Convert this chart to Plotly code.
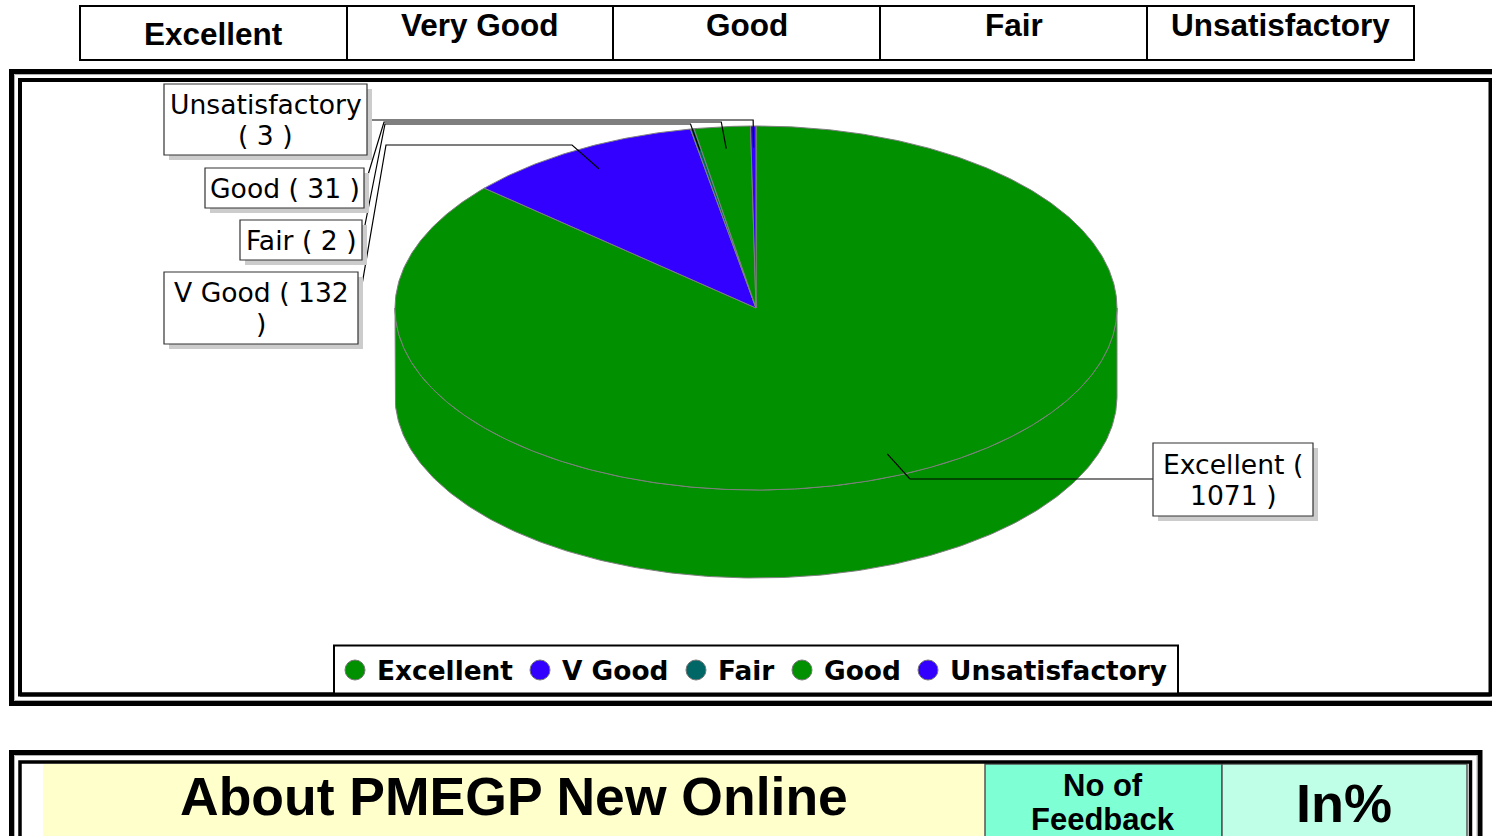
import numpy as np
import plotly.graph_objects as go

# ---------------- data ----------------
categories = ["Excellent", "V Good", "Fair", "Good", "Unsatisfactory"]
values = [1071, 132, 2, 31, 3]
slice_colors = ["#009000", "#3300FF", "#006666", "#009000", "#3300FF"]
header_labels = ["Excellent", "Very Good", "Good", "Fair", "Unsatisfactory"]
footer_title = "About PMEGP New Online"
footer_col2 = ["No of", "Feedback"]
footer_col3 = "In%"

# ---------------- geometry (pixel space) ----------------
W, H = 1492, 836
CX, CY, RX, RY, DEPTH = 756, 308, 361, 182, 88
EDGE = "#808080"


def pt(theta_deg, k=1.0, dy=0.0):
    t = np.radians(theta_deg)
    return CX + RX * k * np.sin(t), CY - RY * k * np.cos(t) + dy


fig = go.Figure()

# side wall of the 3D pie (front half)
th = np.linspace(90, 270, 240)
tx, ty = pt(th)
bx, by = pt(th[::-1], dy=DEPTH)
fig.add_trace(go.Scatter(x=np.concatenate([tx, bx, tx[:1]]), y=np.concatenate([ty, by, ty[:1]]),
                         mode="lines", fill="toself", fillcolor=slice_colors[0],
                         line=dict(color=EDGE, width=1), hoverinfo="skip", showlegend=False))

# top slices, clockwise from 12 o'clock
total = float(sum(values))
start = 0.0
mids = []
for cat, v, c in zip(categories, values, slice_colors):
    span = 360.0 * v / total
    a = np.linspace(start, start + span, max(3, int(span * 2)))
    ax, ay = pt(a)
    xs = np.concatenate([[CX], ax, [CX]])
    ys = np.concatenate([[CY], ay, [CY]])
    fig.add_trace(go.Scatter(x=xs, y=ys, mode="lines", fill="toself", fillcolor=c,
                             line=dict(color=EDGE, width=1), name=cat,
                             hoverinfo="text", text=f"{cat} ( {v} )", showlegend=False))
    mids.append(start + span / 2)
    start += span

shapes = []
annotations = []

# ---------------- header table ----------------
hx = [80, 347, 613, 880, 1147, 1414]
shapes.append(dict(type="rect", xref="x", yref="y", x0=hx[0], x1=hx[-1], y0=6, y1=60,
                   line=dict(color="black", width=2)))
for xv in hx[1:-1]:
    shapes.append(dict(type="line", xref="x", yref="y", x0=xv, x1=xv, y0=6, y1=60,
                       line=dict(color="black", width=2)))
for i, lab in enumerate(header_labels):
    annotations.append(dict(x=(hx[i] + hx[i + 1]) / 2, y=34 if i == 0 else 25, xref="x", yref="y",
                            text=f"<b>{lab}</b>", showarrow=False,
                            font=dict(family="Liberation Sans, Arial", size=31.5, color="black")))

# ---------------- chart frame (double border) ----------------
shapes.append(dict(type="rect", xref="x", yref="y", x0=11.5, x1=1500, y0=71.5, y1=703.5,
                   line=dict(color="black", width=5), layer="above"))
shapes.append(dict(type="rect", xref="x", yref="y", x0=14.5, x1=1500, y0=74.5, y1=700.5,
                   line=dict(color="#b0b0b0", width=1), layer="above"))
shapes.append(dict(type="rect", xref="x", yref="y", x0=20, x1=1490.5, y0=80, y1=694.5,
                   line=dict(color="black", width=4), layer="above"))

# ---------------- data labels with leader lines ----------------
box_specs = {
    "Unsatisfactory": dict(x0=164, x1=367, y0=84, y1=155, lines=["Unsatisfactory", "( 3 )"],
                           elbow_y=120, side="left", bend=None),
    "Good": dict(x0=205, x1=364, y0=168, y1=208, lines=["Good ( 31 )"],
                 elbow_y=122, side="left", bend=384),
    "Fair": dict(x0=240, x1=362, y0=220, y1=260, lines=["Fair ( 2 )"],
                 elbow_y=124, side="left", bend=385),
    "V Good": dict(x0=164, x1=358, y0=272, y1=344, lines=["V Good ( 132", ")"],
                   elbow_y=145, side="left", bend=386),
    "Excellent": dict(x0=1153, x1=1313, y0=443, y1=516, lines=["Excellent (", "1071 )"],
                      elbow_y=479, side="right", bend=None),
}
for cat, v, m in zip(categories, values, mids):
    b = box_specs[cat]
    axp, ayp = pt(m, k=0.88)
    ey = b["elbow_y"]
    dxr, dyr = axp - CX, ayp - CY
    ex = axp + dxr * (ey - ayp) / dyr if abs(dyr) > 1e-6 else axp
    bmid = (b["y0"] + b["y1"]) / 2
    if b["side"] == "left":
        if b["bend"] is None:
            path = f"M{axp},{ayp} L{ex},{ey} L{b['x1']},{ey}"
        else:
            path = f"M{axp},{ayp} L{ex},{ey} L{b['bend']},{ey} L{b['x1']},{bmid}"
    else:
        path = f"M{axp},{ayp} L{ex},{ey} L{b['x0']},{ey}"
    shapes.append(dict(type="path", xref="x", yref="y", path=path,
                       line=dict(color="black", width=1.2), layer="above"))
    shapes.append(dict(type="rect", xref="x", yref="y", x0=b["x0"] + 5, x1=b["x1"] + 5,
                       y0=b["y0"] + 5, y1=b["y1"] + 5, fillcolor="#cccccc",
                       line=dict(width=0), layer="above"))
    shapes.append(dict(type="rect", xref="x", yref="y", x0=b["x0"], x1=b["x1"],
                       y0=b["y0"], y1=b["y1"], fillcolor="white",
                       line=dict(color="#333333", width=1.2), layer="above"))
    n = len(b["lines"])
    for j, line_txt in enumerate(b["lines"]):
        yy = bmid + (j - (n - 1) / 2) * 31
        annotations.append(dict(x=(b["x0"] + b["x1"]) / 2, y=yy, xref="x", yref="y",
                                text=line_txt, showarrow=False,
                                font=dict(family="DejaVu Sans", size=26.6, color="black")))

# ---------------- legend ----------------
shapes.append(dict(type="rect", xref="x", yref="y", x0=334, x1=1178, y0=645.5, y1=694,
                   fillcolor="white", line=dict(color="black", width=2), layer="above"))
legend_marker_x = [355, 540, 696, 802, 928]
for cat, c, lx in zip(categories, slice_colors, legend_marker_x):
    shapes.append(dict(type="circle", xref="x", yref="y", x0=lx - 10, x1=lx + 10,
                       y0=660, y1=680, fillcolor=c, line=dict(color="#777777", width=1),
                       layer="above"))
    annotations.append(dict(x=lx + 20, y=670, xref="x", yref="y", xanchor="left",
                            text=f"<b>{cat}</b>", showarrow=False,
                            font=dict(family="DejaVu Sans", size=26.4, color="black")))
shapes.append(dict(type="line", xref="x", yref="y", x0=20, x1=1490.5, y0=694.5, y1=694.5,
                   line=dict(color="black", width=4), layer="above"))

# ---------------- footer table ----------------
shapes.append(dict(type="rect", xref="x", yref="y", x0=43, x1=985, y0=764, y1=900,
                   fillcolor="#FFFFCC", line=dict(width=0)))
shapes.append(dict(type="rect", xref="x", yref="y", x0=985, x1=1222, y0=764, y1=900,
                   fillcolor="#7FFFD4", line=dict(color="#555555", width=1.5)))
shapes.append(dict(type="rect", xref="x", yref="y", x0=1222, x1=1467, y0=764, y1=900,
                   fillcolor="#BFFFE8", line=dict(color="#555555", width=1.5)))
shapes.append(dict(type="rect", xref="x", yref="y", x0=11.5, x1=1480, y0=752.5, y1=900,
                   line=dict(color="black", width=5)))
shapes.append(dict(type="rect", xref="x", yref="y", x0=14.5, x1=1477, y0=755.5, y1=900,
                   line=dict(color="#b0b0b0", width=1)))
shapes.append(dict(type="rect", xref="x", yref="y", x0=20, x1=1470.5, y0=762, y1=900,
                   line=dict(color="black", width=3.5)))
annotations.append(dict(x=514, y=796, xref="x", yref="y", text=f"<b>{footer_title}</b>",
                        showarrow=False, font=dict(family="Liberation Sans, Arial", size=53.5, color="black")))
for j, t in enumerate(footer_col2):
    annotations.append(dict(x=1103, y=785 + 34 * j, xref="x", yref="y", text=f"<b>{t}</b>",
                            showarrow=False, font=dict(family="Liberation Sans, Arial", size=31, color="black")))
annotations.append(dict(x=1344, y=803, xref="x", yref="y", text=f"<b>{footer_col3}</b>",
                        showarrow=False, font=dict(family="Liberation Sans, Arial", size=54, color="black")))

fig.update_layout(
    width=W, height=H, margin=dict(l=0, r=0, t=0, b=0),
    paper_bgcolor="white", plot_bgcolor="white",
    xaxis=dict(range=[0, W], visible=False, fixedrange=True),
    yaxis=dict(range=[H, 0], visible=False, fixedrange=True),
    shapes=shapes, annotations=annotations, showlegend=False,
)
fig.write_html("out.html", config={"displayModeBar": False},
               post_script="document.body.style.margin='0';document.body.style.overflow='hidden';")
